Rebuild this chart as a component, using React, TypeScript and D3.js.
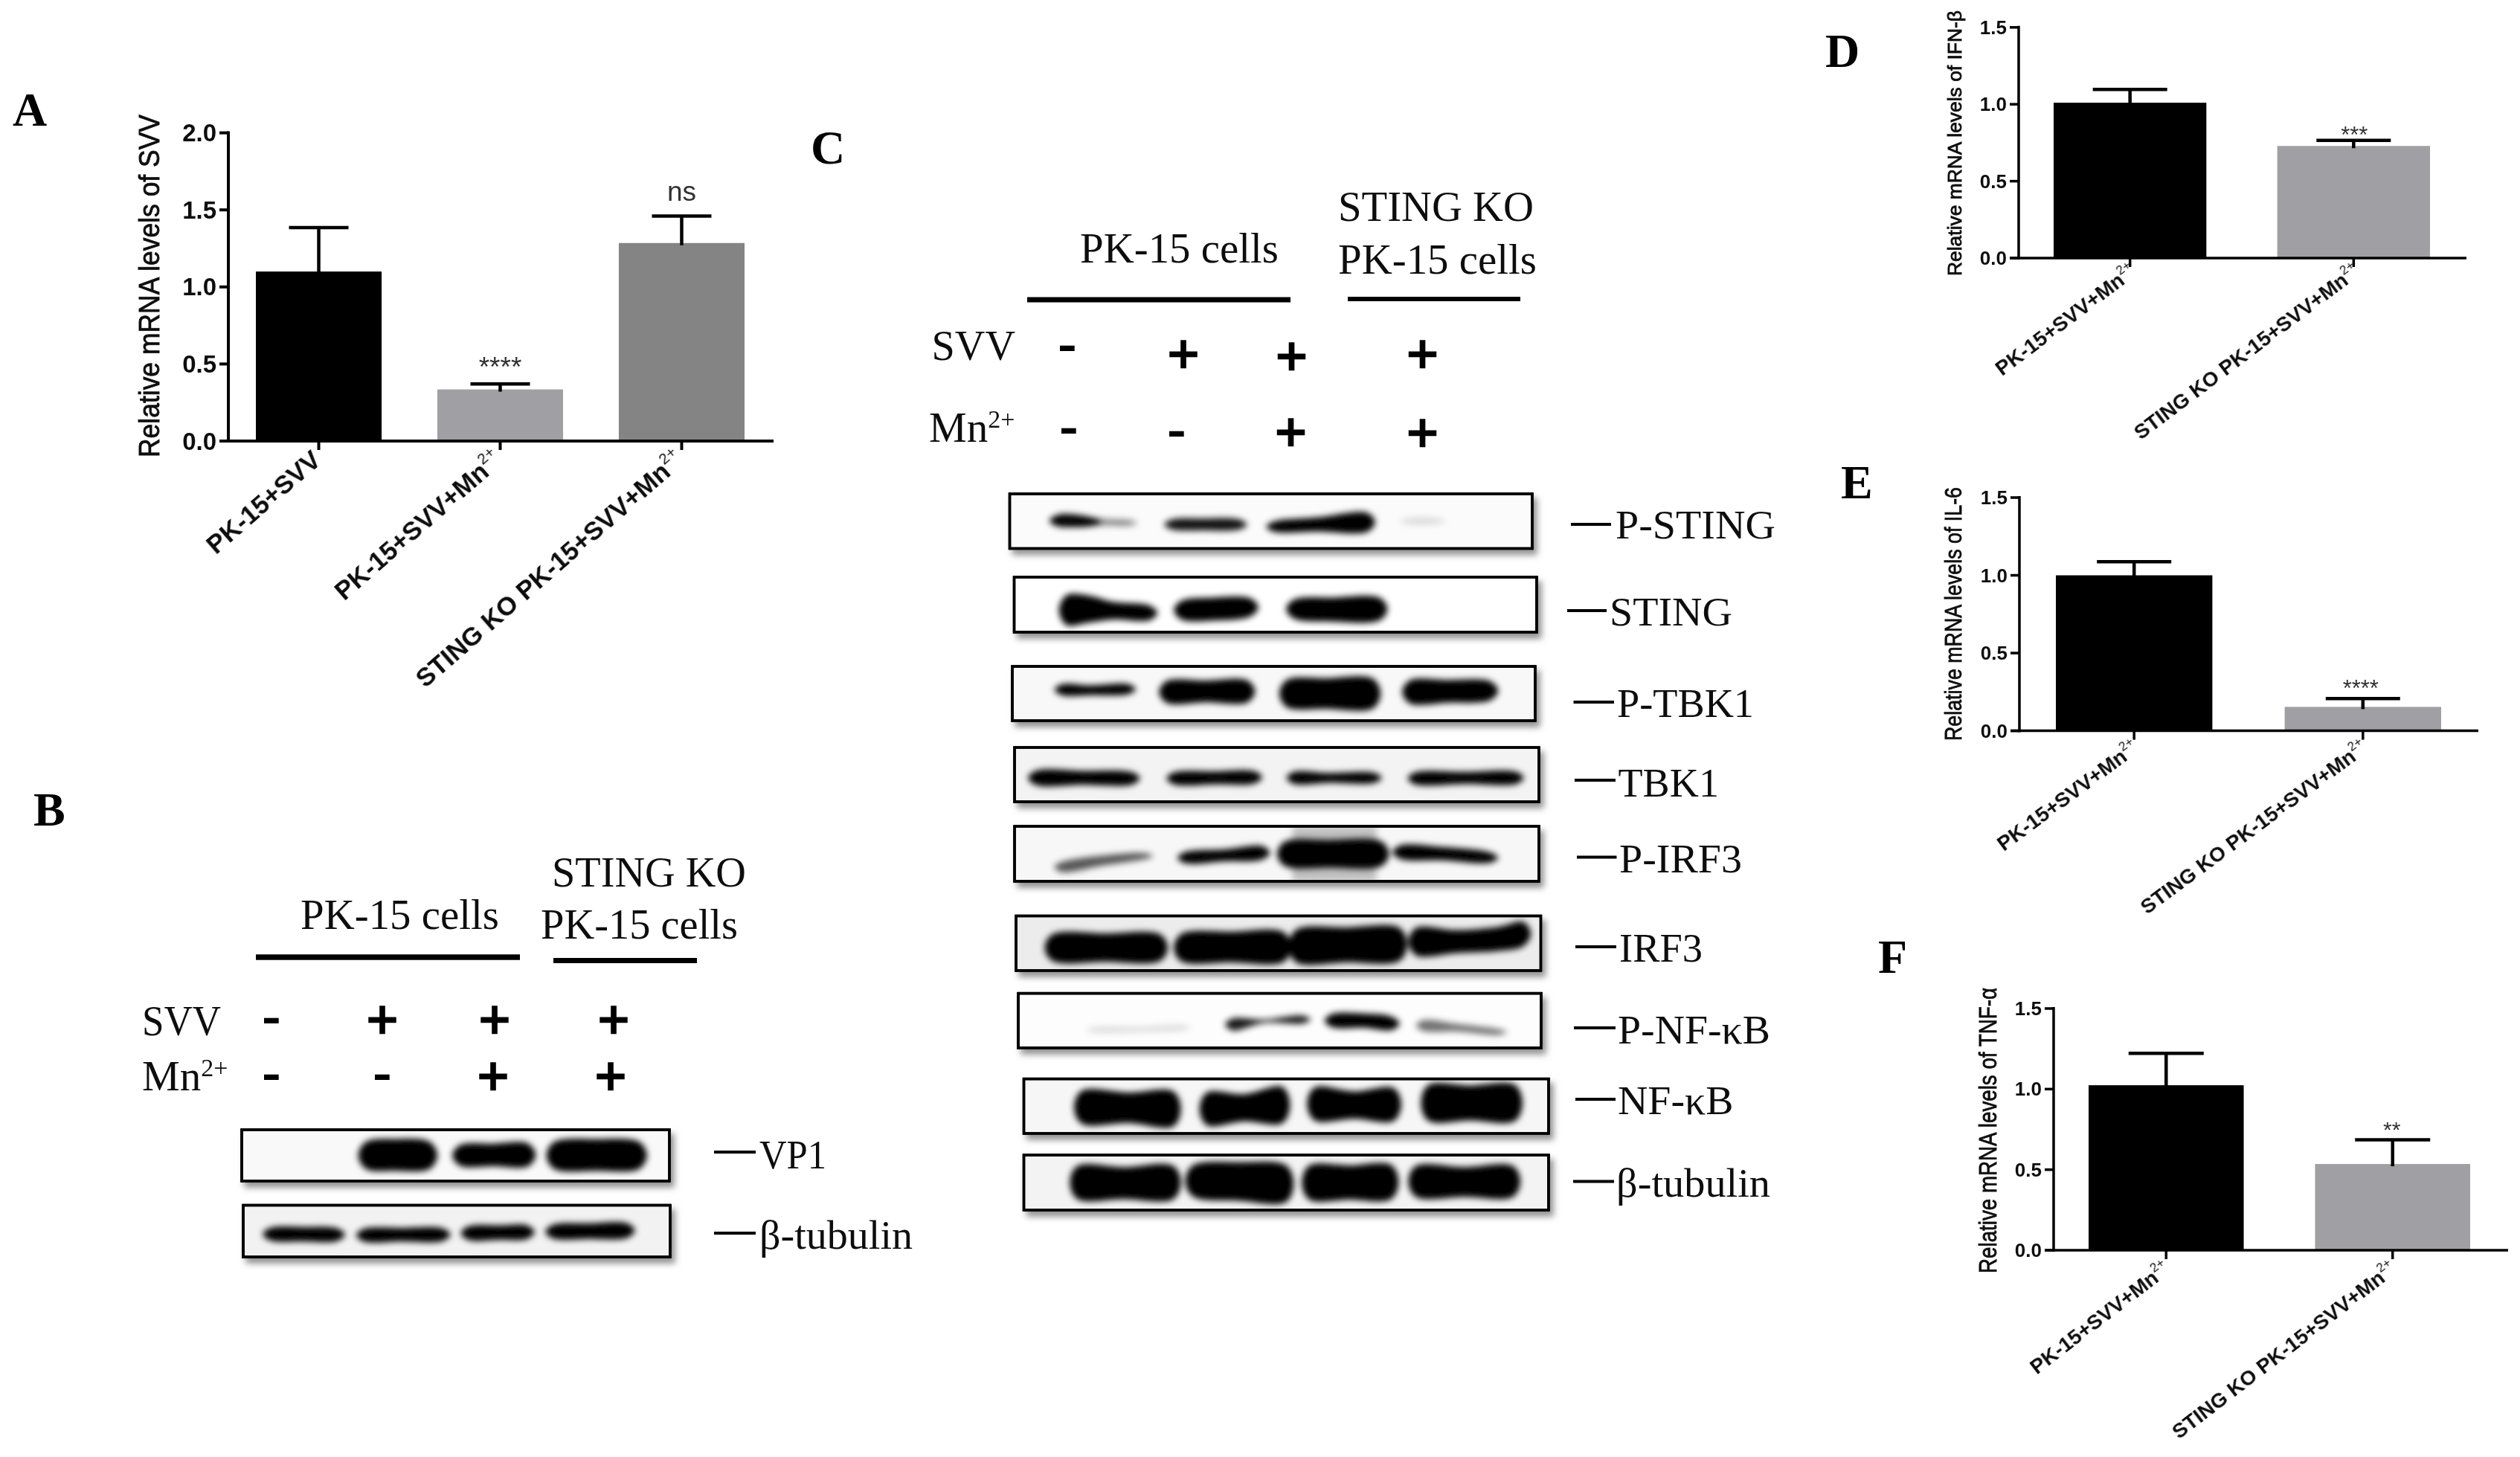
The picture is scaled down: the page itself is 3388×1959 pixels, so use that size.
import React from "react";
import * as d3 from "d3";

// ---------- bar chart data ----------
const catsA = ["PK-15+SVV", "PK-15+SVV+Mn", "STING KO PK-15+SVV+Mn"];
const valsA = [1.1, 0.335, 1.285];
const errA = [1.385, 0.37, 1.46];
const sigA = ["", "****", "ns"];
const catsKO = ["PK-15+SVV+Mn", "STING KO PK-15+SVV+Mn"];
const valsD = [1.01, 0.729];
const errD = [1.096, 0.765];
const sigD = ["", "***"];
const valsE = [1.0, 0.154];
const errE = [1.088, 0.207];
const sigE = ["", "****"];
const valsF = [1.024, 0.535];
const errF = [1.222, 0.685];
const sigF = ["", "**"];
const ticksA = [0, 0.5, 1, 1.5, 2];
const ticksDEF = [0, 0.5, 1, 1.5];

// ---------- blot data: each band is a list of [x, centre, half-thickness] read as fractions of its blot, then its darkness ----------
type Band = { p: number[][]; o: number };
const bandsVP1: Band[] = [
  { p: [[0.29, 0.5, 0.26], [0.36, 0.49, 0.31], [0.44, 0.5, 0.26]], o: 1 },
  { p: [[0.51, 0.5, 0.2], [0.59, 0.49, 0.22], [0.67, 0.49, 0.22]], o: 1 },
  { p: [[0.73, 0.5, 0.26], [0.83, 0.49, 0.31], [0.93, 0.5, 0.26]], o: 1 },
];
const bandsTubB: Band[] = [
  { p: [[0.063, 0.56, 0.12], [0.14, 0.56, 0.14], [0.221, 0.57, 0.12]], o: 1 },
  { p: [[0.282, 0.58, 0.12], [0.37, 0.57, 0.13], [0.468, 0.57, 0.12]], o: 1 },
  { p: [[0.527, 0.54, 0.13], [0.6, 0.53, 0.14], [0.665, 0.52, 0.13]], o: 1 },
  { p: [[0.725, 0.51, 0.13], [0.81, 0.5, 0.15], [0.9, 0.49, 0.14]], o: 1 },
];
const bandsPSting: Band[] = [
  { p: [[0.09, 0.49, 0.1], [0.115, 0.49, 0.12], [0.16, 0.51, 0.07]], o: 1 },
  { p: [[0.15, 0.51, 0.07], [0.19, 0.52, 0.06], [0.23, 0.53, 0.05]], o: 0.45 },
  { p: [[0.31, 0.56, 0.09], [0.37, 0.56, 0.11], [0.44, 0.56, 0.09]], o: 0.92 },
  { p: [[0.505, 0.6, 0.09], [0.59, 0.56, 0.13], [0.685, 0.52, 0.17]], o: 1 },
  { p: [[0.76, 0.5, 0.05], [0.79, 0.5, 0.07], [0.82, 0.5, 0.05]], o: 0.12 },
];
const bandsSting: Band[] = [
  { p: [[0.1, 0.6, 0.27], [0.14, 0.58, 0.25], [0.19, 0.61, 0.16], [0.26, 0.65, 0.13]], o: 1 },
  { p: [[0.32, 0.6, 0.17], [0.38, 0.58, 0.21], [0.453, 0.55, 0.16]], o: 1 },
  { p: [[0.535, 0.58, 0.17], [0.61, 0.59, 0.22], [0.7, 0.58, 0.2]], o: 1 },
];
const bandsPTbk: Band[] = [
  { p: [[0.095, 0.43, 0.1], [0.15, 0.44, 0.09], [0.222, 0.42, 0.09]], o: 1 },
  { p: [[0.295, 0.47, 0.2], [0.37, 0.46, 0.2], [0.45, 0.46, 0.2]], o: 1 },
  { p: [[0.525, 0.5, 0.25], [0.6, 0.5, 0.28], [0.69, 0.5, 0.27]], o: 1 },
  { p: [[0.76, 0.47, 0.21], [0.83, 0.46, 0.21], [0.915, 0.45, 0.17]], o: 1 },
];
const bandsTbk: Band[] = [
  { p: [[0.04, 0.56, 0.13], [0.13, 0.56, 0.13], [0.225, 0.57, 0.11]], o: 1 },
  { p: [[0.304, 0.57, 0.11], [0.38, 0.56, 0.12], [0.458, 0.55, 0.11]], o: 1 },
  { p: [[0.533, 0.56, 0.11], [0.6, 0.56, 0.09], [0.686, 0.56, 0.09]], o: 1 },
  { p: [[0.764, 0.57, 0.11], [0.86, 0.56, 0.11], [0.957, 0.56, 0.11]], o: 1 },
];
const bandsPIrf: Band[] = [
  { p: [[0.09, 0.74, 0.09], [0.17, 0.62, 0.09], [0.25, 0.54, 0.05]], o: 0.65 },
  { p: [[0.325, 0.57, 0.1], [0.4, 0.53, 0.11], [0.473, 0.48, 0.12]], o: 1 },
  { p: [[0.515, 0.5, 0.22], [0.6, 0.5, 0.25], [0.7, 0.5, 0.22]], o: 1 },
  { p: [[0.735, 0.47, 0.12], [0.82, 0.5, 0.12], [0.908, 0.57, 0.09]], o: 1 },
];
const bandsIrf: Band[] = [
  { p: [[0.069, 0.58, 0.24], [0.17, 0.58, 0.26], [0.275, 0.58, 0.24]], o: 1 },
  { p: [[0.315, 0.58, 0.25], [0.41, 0.57, 0.28], [0.51, 0.57, 0.27]], o: 1 },
  { p: [[0.534, 0.55, 0.3], [0.63, 0.53, 0.32], [0.731, 0.52, 0.3]], o: 1 },
  { p: [[0.762, 0.47, 0.25], [0.84, 0.47, 0.21], [0.92, 0.42, 0.22], [0.967, 0.33, 0.22]], o: 1 },
];
const bandsPNf: Band[] = [
  { p: [[0.145, 0.67, 0.05], [0.23, 0.66, 0.05], [0.316, 0.63, 0.05]], o: 0.12 },
  { p: [[0.41, 0.57, 0.11], [0.47, 0.51, 0.03], [0.545, 0.48, 0.07]], o: 0.9 },
  { p: [[0.6, 0.5, 0.12], [0.66, 0.5, 0.13], [0.715, 0.55, 0.12]], o: 1 },
  { p: [[0.775, 0.59, 0.1], [0.84, 0.63, 0.07], [0.92, 0.71, 0.05]], o: 0.55 },
];
const bandsNf: Band[] = [
  { p: [[0.11, 0.52, 0.3], [0.2, 0.53, 0.28], [0.285, 0.55, 0.32]], o: 1 },
  { p: [[0.349, 0.55, 0.3], [0.42, 0.53, 0.25], [0.493, 0.48, 0.33]], o: 1 },
  { p: [[0.554, 0.46, 0.3], [0.63, 0.48, 0.25], [0.705, 0.47, 0.3]], o: 1 },
  { p: [[0.771, 0.44, 0.33], [0.85, 0.44, 0.32], [0.936, 0.44, 0.33]], o: 1 },
];
const bandsTubC: Band[] = [
  { p: [[0.102, 0.5, 0.3], [0.19, 0.51, 0.29], [0.285, 0.5, 0.3]], o: 1 },
  { p: [[0.322, 0.47, 0.28], [0.41, 0.48, 0.35], [0.5, 0.52, 0.33]], o: 1 },
  { p: [[0.544, 0.5, 0.31], [0.62, 0.5, 0.31], [0.7, 0.49, 0.31]], o: 1 },
  { p: [[0.747, 0.48, 0.28], [0.84, 0.49, 0.27], [0.932, 0.48, 0.28]], o: 1 },
];

const svvB = ["-", "+", "+", "+"];
const mnB = ["-", "-", "+", "+"];

// ---------- layout ----------
const SANS = "'Liberation Sans', Arial, sans-serif";
const SERIF = "'Liberation Serif', 'Times New Roman', serif";

type Chart = {
  cats: string[]; vals: number[]; errs: number[]; sig: string[]; ticks: number[]; title: string;
  axisX: number; y0: number; yTop: number; yMax: number; xEnd: number; barL: number; barR: number; pad: number;
  cap: number; colors: string[]; tickFont: number; titleX: number; titleY0: number; titleY1: number; titleFont: number;
  labFont: number; supFont: number; angle: number; labDx: number; labDy: number; sigY: number[]; sigFont: number;
  sigDx: number[]; lw: number;
};

const BLACK = "#000";
const GRAY = "#a09fa3";
const DGRAY = "#848484";

const charts: Chart[] = [
  { cats: catsA, vals: valsA, errs: errA, sig: sigA, ticks: ticksA, title: "Relative mRNA levels of SVV",
    axisX: 307, y0: 593, yTop: 178.6, yMax: 2, xEnd: 1040, barL: 344, barR: 1001, pad: 0.307, cap: 80,
    colors: [BLACK, GRAY, DGRAY], tickFont: 33, titleX: 214, titleY0: 154, titleY1: 615, titleFont: 38,
    labFont: 35, supFont: 21, angle: 41, labDx: 5, labDy: 29, sigY: [0, 506, 270], sigFont: 37, sigDx: [0, 0, 0], lw: 4 },
  { cats: catsKO, vals: valsD, errs: errD, sig: sigD, ticks: ticksDEF, title: "Relative mRNA levels of IFN-β",
    axisX: 2714, y0: 347, yTop: 36.8, yMax: 1.5, xEnd: 3316, barL: 2761, barR: 3267, pad: 0.317, cap: 100,
    colors: [BLACK, GRAY], tickFont: 26, titleX: 2637, titleY0: 14, titleY1: 371, titleFont: 26,
    labFont: 28, supFont: 17, angle: 37, labDx: 10, labDy: 22, sigY: [0, 192], sigFont: 31, sigDx: [0, 1], lw: 3.5 },
  { cats: catsKO, vals: valsE, errs: errE, sig: sigE, ticks: ticksDEF, title: "Relative mRNA levels of IL-6",
    axisX: 2715, y0: 982.6, yTop: 669, yMax: 1.5, xEnd: 3332, barL: 2764, barR: 3282, pad: 0.316, cap: 100,
    colors: [BLACK, GRAY], tickFont: 26, titleX: 2637, titleY0: 655, titleY1: 996, titleFont: 32,
    labFont: 28, supFont: 17, angle: 36.5, labDx: 8, labDy: 27, sigY: [0, 936], sigFont: 31, sigDx: [0, -3], lw: 3.5 },
  { cats: catsKO, vals: valsF, errs: errF, sig: sigF, ticks: ticksDEF, title: "Relative mRNA levels of TNF-α",
    axisX: 2761, y0: 1681, yTop: 1356, yMax: 1.5, xEnd: 3372, barL: 2808, barR: 3321, pad: 0.315, cap: 101,
    colors: [BLACK, GRAY], tickFont: 26, titleX: 2684, titleY0: 1328, titleY1: 1712, titleFont: 33,
    labFont: 28, supFont: 17, angle: 37.5, labDx: 7, labDy: 29, sigY: [0, 1529], sigFont: 30, sigDx: [0, -1], lw: 3.5 },
];

type Blot = { x0: number; x1: number; y0: number; y1: number; bands: Band[]; bg: string; label: string; lx0: number; lx1: number; ly: number; tx0: number; tx1: number; tb: number; smear?: number[] };

const blots: Blot[] = [
  { x0: 325, x1: 900, y0: 1519, y1: 1588, bands: bandsVP1, bg: "#f9f9f9", label: "VP1", lx0: 960, lx1: 1016, ly: 1549, tx0: 1021, tx1: 1111, tb: 1571 },
  { x0: 327, x1: 901, y0: 1620.5, y1: 1690, bands: bandsTubB, bg: "#f2f2f2", label: "β-tubulin", lx0: 960, lx1: 1016, ly: 1658, tx0: 1021, tx1: 1227, tb: 1678.5 },
  { x0: 1357.5, x1: 2060, y0: 664, y1: 737.5, bands: bandsPSting, bg: "#fbfbfb", label: "P-STING", lx0: 2112, lx1: 2166, ly: 705, tx0: 2172, tx1: 2387, tb: 724 },
  { x0: 1363.5, x1: 2066, y0: 776, y1: 850, bands: bandsSting, bg: "#ffffff", label: "STING", lx0: 2107, lx1: 2160, ly: 821, tx0: 2164, tx1: 2329, tb: 841 },
  { x0: 1361, x1: 2064, y0: 896, y1: 969, bands: bandsPTbk, bg: "#f8f8f8", label: "P-TBK1", lx0: 2115.5, lx1: 2170, ly: 944, tx0: 2174, tx1: 2358, tb: 964 },
  { x0: 1364, x1: 2069, y0: 1005, y1: 1078, bands: bandsTbk, bg: "#f3f3f3", label: "TBK1", lx0: 2117, lx1: 2172, ly: 1049, tx0: 2175.5, tx1: 2311, tb: 1071 },
  { x0: 1364, x1: 2069, y0: 1111, y1: 1185, bands: bandsPIrf, bg: "#f7f7f7", label: "P-IRF3", lx0: 2120, lx1: 2173.5, ly: 1152.6, tx0: 2177, tx1: 2342, tb: 1173, smear: [0.53, 0.69] },
  { x0: 1366, x1: 2071.5, y0: 1231.5, y1: 1305, bands: bandsIrf, bg: "#ececec", label: "IRF3", lx0: 2118, lx1: 2173, ly: 1273, tx0: 2177, tx1: 2289, tb: 1293 },
  { x0: 1369, x1: 2072, y0: 1335.6, y1: 1409, bands: bandsPNf, bg: "#fdfdfd", label: "P-NF-κB", lx0: 2116, lx1: 2172, ly: 1382, tx0: 2175, tx1: 2380, tb: 1403 },
  { x0: 1376.5, x1: 2082, y0: 1450.6, y1: 1524, bands: bandsNf, bg: "#f6f6f6", label: "NF-κB", lx0: 2118, lx1: 2172, ly: 1478, tx0: 2175, tx1: 2330.5, tb: 1498 },
  { x0: 1376.5, x1: 2082, y0: 1553, y1: 1627, bands: bandsTubC, bg: "#f3f3f3", label: "β-tubulin", lx0: 2115, lx1: 2170, ly: 1588.5, tx0: 2173, tx1: 2380, tb: 1609 },
];

const panelLetters = [
  { t: "A", x: 17, y: 169 }, { t: "B", x: 45, y: 1110 }, { t: "C", x: 1090, y: 220 },
  { t: "D", x: 2454, y: 90 }, { t: "E", x: 2475, y: 670 }, { t: "F", x: 2525, y: 1308 },
];

const headerTexts = [
  { t: "PK-15 cells", x0: 404, x1: 671, y: 1249 }, { t: "STING KO", x0: 742, x1: 1003, y: 1192 },
  { t: "PK-15 cells", x0: 727, x1: 992, y: 1262 }, { t: "SVV", x0: 191, x1: 297, y: 1391.5 },
  { t: "PK-15 cells", x0: 1452, x1: 1719, y: 353 }, { t: "STING KO", x0: 1799, x1: 2062, y: 297 },
  { t: "PK-15 cells", x0: 1799, x1: 2066, y: 368 }, { t: "SVV", x0: 1252.5, x1: 1365, y: 484 },
];
const mnTexts = [{ x: 191, y: 1466 }, { x: 1249, y: 594 }];
const headerLines = [
  { x0: 344, x1: 699, y: 1287, w: 7.5 }, { x0: 744, x1: 937, y: 1291.5, w: 7 },
  { x0: 1381, x1: 1735, y: 403, w: 7 }, { x0: 1812, x1: 2044, y: 402, w: 6 },
];
const signs = [
  ...svvB.map((s, i) => ({ s, x: [365, 514, 665, 825][i], y: 1371 })),
  ...mnB.map((s, i) => ({ s, x: [365, 514, 663, 821][i], y: 1447 })),
  ...svvB.map((s, i) => ({ s, x: [1435, 1591, 1736.5, 1912.5][i], y: [466.5, 476, 478.6, 476][i] })),
  ...mnB.map((s, i) => ({ s, x: [1437, 1582, 1735.6, 1912.6][i], y: [578, 581.6, 580.6, 581.6][i] })),
];

const outline = d3.line<number[]>().x((d) => d[0]).y((d) => d[1]).curve(d3.curveCatmullRomClosed.alpha(0.5));

function BarChart({ c }: { c: Chart }) {
  const y = d3.scaleLinear().domain([0, c.yMax]).range([c.y0, c.yTop]);
  const x = d3.scaleBand<string>().domain(c.cats).range([c.barL, c.barR]).paddingInner(c.pad).paddingOuter(0);
  const fmt = d3.format(".1f");
  const bw = x.bandwidth();
  return (
    <g fontFamily={SANS}>
      {c.cats.map((cat, i) => {
        const cx = x(cat)! + bw / 2;
        return (
          <g key={cat}>
            <rect x={x(cat)} y={y(c.vals[i])} width={bw} height={c.y0 - y(c.vals[i])} fill={c.colors[i]} />
            <line x1={cx} x2={cx} y1={y(c.errs[i])} y2={y(c.vals[i]) + 3} stroke="#000" strokeWidth={4.5} />
            <line x1={cx - c.cap / 2} x2={cx + c.cap / 2} y1={y(c.errs[i])} y2={y(c.errs[i])} stroke="#000" strokeWidth={4.5} />
            <line x1={cx} x2={cx} y1={c.y0} y2={c.y0 + 12} stroke="#000" strokeWidth={c.lw} />
            {c.sig[i] && (
              <text x={cx + c.sigDx[i]} y={c.sigY[i]} textAnchor="middle" fontSize={c.sigFont} fill="#333">{c.sig[i]}</text>
            )}
            <text transform={`translate(${cx + c.labDx},${c.y0 + c.labDy}) rotate(${-c.angle})`} textAnchor="end" fontSize={c.labFont} fontWeight="bold" fill="#111">
              {cat.endsWith("Mn") ? (
                <>
                  {cat}
                  <tspan fontSize={c.supFont} fontWeight="normal" dy={-c.labFont * 0.45}>2+</tspan>
                </>
              ) : cat}
            </text>
          </g>
        );
      })}
      <line x1={c.axisX} x2={c.axisX} y1={c.yTop - 2} y2={c.y0 + 2} stroke="#000" strokeWidth={c.lw} />
      <line x1={c.axisX - 12} x2={c.xEnd} y1={c.y0} y2={c.y0} stroke="#000" strokeWidth={c.lw} />
      {c.ticks.map((t) => (
        <g key={t}>
          <line x1={c.axisX - 12} x2={c.axisX} y1={y(t)} y2={y(t)} stroke="#000" strokeWidth={c.lw} />
          <text x={c.axisX - 16} y={y(t) + c.tickFont * 0.35} textAnchor="end" fontSize={c.tickFont} fontWeight="bold" fill="#111">{fmt(t)}</text>
        </g>
      ))}
      <text
        transform={`translate(${c.titleX},${c.titleY1}) rotate(-90)`}
        fontSize={c.titleFont}
        textLength={c.titleY1 - c.titleY0}
        lengthAdjust="spacingAndGlyphs"
        fill="#111"
        stroke="#111"
        strokeWidth={0.8}
      >{c.title}</text>
    </g>
  );
}

function BlotBox({ b }: { b: Blot }) {
  const sx = d3.scaleLinear().domain([0, 1]).range([b.x0, b.x1]);
  const sy = d3.scaleLinear().domain([0, 1]).range([b.y0, b.y1]);
  return (
    <g>
      <rect x={b.x0} y={b.y0} width={b.x1 - b.x0} height={b.y1 - b.y0} fill={b.bg} stroke="#000" strokeWidth={3.5} filter="url(#shadow)" />
      <g clipPath={`url(#clip-${b.label}-${b.x0})`}>
        <g filter="url(#bandBlur)">
          {b.smear && (
            <rect x={sx(b.smear[0])} y={b.y0} width={sx(b.smear[1]) - sx(b.smear[0])} height={b.y1 - b.y0} fill="#000" opacity={0.22} />
          )}
          {b.bands.map((band, i) => {
            const top = band.p.map((q) => [sx(q[0]), sy(q[1] - q[2])]);
            const bot = band.p.map((q) => [sx(q[0]), sy(q[1] + q[2])]).reverse();
            const first = band.p[0];
            const last = band.p[band.p.length - 1];
            const ring = [[sx(first[0]) - 10, sy(first[1])], ...top, [sx(last[0]) + 10, sy(last[1])], ...bot];
            return <path key={i} d={outline(ring)!} fill="#000" opacity={band.o} />;
          })}
        </g>
      </g>
      <clipPath id={`clip-${b.label}-${b.x0}`}>
        <rect x={b.x0} y={b.y0} width={b.x1 - b.x0} height={b.y1 - b.y0} />
      </clipPath>
      <rect x={b.x0} y={b.y0} width={b.x1 - b.x0} height={b.y1 - b.y0} fill="none" stroke="#000" strokeWidth={3.5} />
      <line x1={b.lx0} x2={b.lx1} y1={b.ly} y2={b.ly} stroke="#000" strokeWidth={4} />
      <text x={b.tx0} y={b.tb} fontFamily={SERIF} fontSize={54} textLength={b.tx1 - b.tx0} lengthAdjust="spacingAndGlyphs" fill="#111">{b.label}</text>
    </g>
  );
}

export default function App() {
  return (
    <svg width={3388} height={1959} viewBox="0 0 3388 1959" style={{ position: "absolute", left: 0, top: 0, background: "#fff" }}>
      <defs>
        <filter id="shadow" x="-5%" y="-20%" width="112%" height="150%">
          <feDropShadow dx={5} dy={7} stdDeviation={4} floodColor="#777" floodOpacity={0.8} />
        </filter>
        <filter id="bandBlur" filterUnits="userSpaceOnUse" x="0" y="0" width="3388" height="1959">
          <feGaussianBlur stdDeviation={4.5} />
        </filter>
        <filter id="soft" filterUnits="userSpaceOnUse" x="0" y="0" width="3388" height="1959">
          <feGaussianBlur stdDeviation={0.7} />
        </filter>
      </defs>
      <rect width={3388} height={1959} fill="#fff" />
      <g filter="url(#soft)">
        {charts.map((c) => <BarChart key={c.title} c={c} />)}
        {blots.map((b) => <BlotBox key={b.label + b.x0} b={b} />)}
        <g fontFamily={SERIF} fill="#111">
          {panelLetters.map((p) => (
            <text key={p.t} x={p.x} y={p.y} fontSize={64} fontWeight="bold" fill="#000">{p.t}</text>
          ))}
          {headerTexts.map((h) => (
            <text key={h.t + h.x0} x={h.x0} y={h.y} fontSize={57} textLength={h.x1 - h.x0} lengthAdjust="spacingAndGlyphs">{h.t}</text>
          ))}
          {mnTexts.map((m) => (
            <text key={m.x} x={m.x} y={m.y} fontSize={57}>Mn<tspan fontSize={34} dy={-19}>2+</tspan></text>
          ))}
        </g>
        {headerLines.map((l) => (
          <line key={l.x0} x1={l.x0} x2={l.x1} y1={l.y} y2={l.y} stroke="#000" strokeWidth={l.w} />
        ))}
        <g fontFamily={SANS} textAnchor="middle" fill="#000">
          {signs.map((s, i) =>
            s.s === "+" ? (
              <text key={i} x={s.x} y={s.y + 24} fontSize={72} stroke="#000" strokeWidth={2.5}>{s.s}</text>
            ) : (
              <text key={i} transform={`translate(${s.x},${s.y + 17}) scale(1.25,1)`} fontSize={62} fontWeight="bold">{s.s}</text>
            )
          )}
        </g>
      </g>
    </svg>
  );
}
